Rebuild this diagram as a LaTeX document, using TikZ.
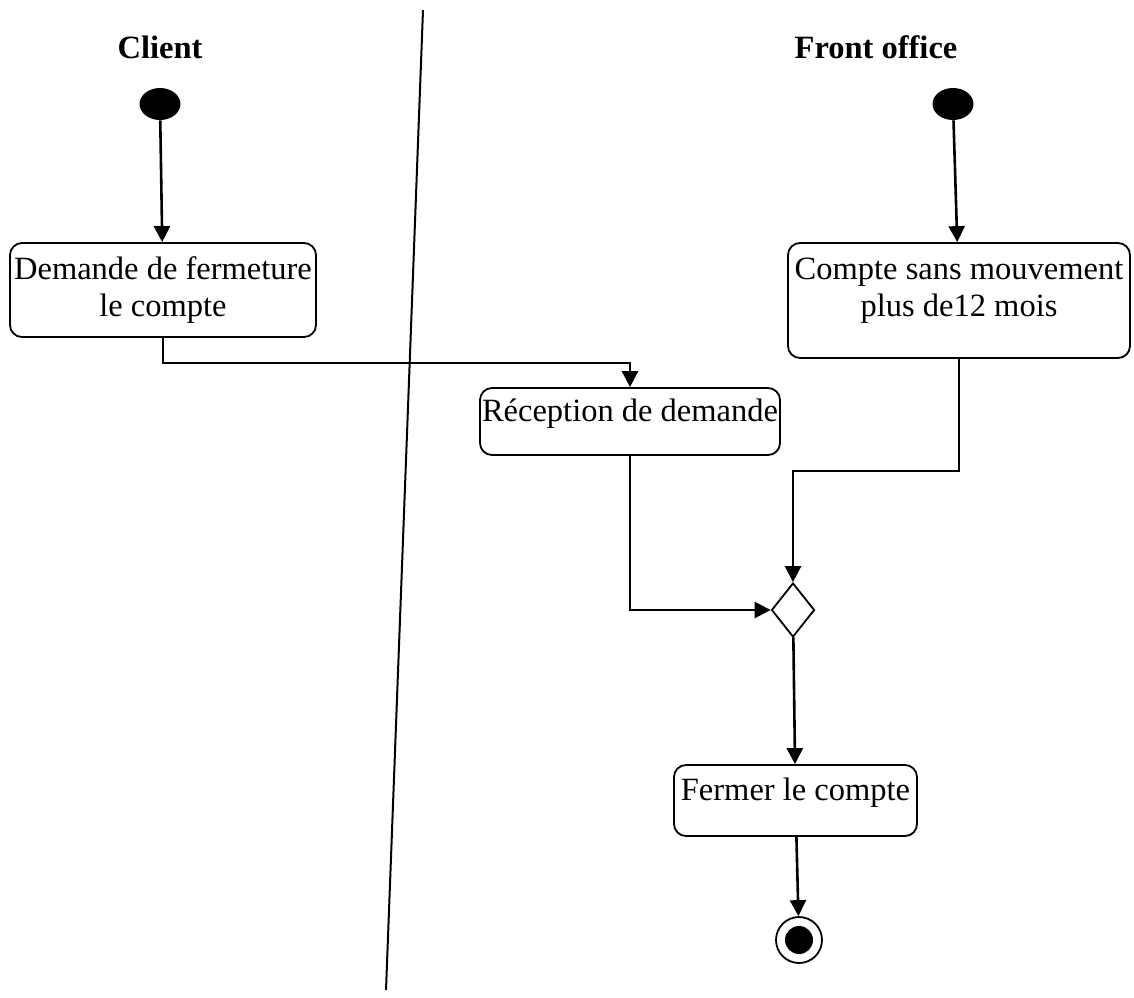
\documentclass[tikz,border=0pt]{standalone}
\usepackage{fontspec}
\setmainfont{Liberation Serif}
\usetikzlibrary{arrows.meta, shapes.geometric}

\begin{document}
\begin{tikzpicture}[x=0.5pt, y=-0.5pt,
        font=\fontsize{16.25}{18.5}\selectfont,
        act/.style={draw, rounded corners=6pt, line width=0.9pt, align=center, inner sep=1pt},
        start/.style={ellipse, fill=black, minimum width=20.5pt, minimum height=16pt, inner sep=0pt},
        stop/.style={circle, draw, line width=0.9pt, minimum size=23pt, inner sep=0pt,
            path picture={\fill (path picture bounding box.center) circle (7pt);}},
        decide/.style={diamond, draw, line width=0.9pt, minimum width=21.5pt, minimum height=27pt, aspect=0.8, inner sep=0pt},
        flow/.style={line width=1.3pt, -{Triangle[length=8pt, width=8pt]}}]
    \useasboundingbox (0,0) rectangle (1134,997);
    % swimlane
    \coordinate (laneTop) at (423,10);
    \coordinate (laneBot) at (386,990);
    \draw[line width=1pt] (laneTop) -- (laneBot);
    \node[font=\fontsize{16.25}{18.5}\selectfont\bfseries] (client) at (160,47) {Client};
    \node[font=\fontsize{16.25}{18.5}\selectfont\bfseries] (front) at (876,47) {Front office};
    % nodes
    \node[start] (startC) at (160,104) {};
    \node[start] (startF) at (953,104) {};
    \node[act, minimum width=153pt, minimum height=47pt] (demande) at (163,290) {Demande de fermeture\\le compte};
    \node[act, minimum width=171pt, minimum height=57.5pt, text depth=13.5pt] (compte) at (959,300.5) {Compte sans mouvement\\plus de12 mois};
    \node[act, minimum width=148pt, minimum height=33.5pt, text depth=11.5pt] (recv) at (630,421.5) {Réception de demande};
    \node[decide] (dec) at (793,610) {};
    \node[act, minimum width=121.5pt, minimum height=35.5pt, text depth=11.5pt] (fermer) at (795.5,800.5) {Fermer le compte};
    \node[stop] (end) at (799,940) {};
    % connectors
    \draw[flow] (startC) -- (demande);
    \draw[flow] (startF) -- (compte);
    \draw[flow] (demande.south) -- ++(0,25) -| (recv.north);
    \draw[flow] (recv.south) |- (dec.west);
    \draw[flow] (compte.south) -- ++(0,112) -| (dec.north);
    \draw[flow] (dec) -- (fermer);
    \draw[flow] (fermer) -- (end);
\end{tikzpicture}
\end{document}
